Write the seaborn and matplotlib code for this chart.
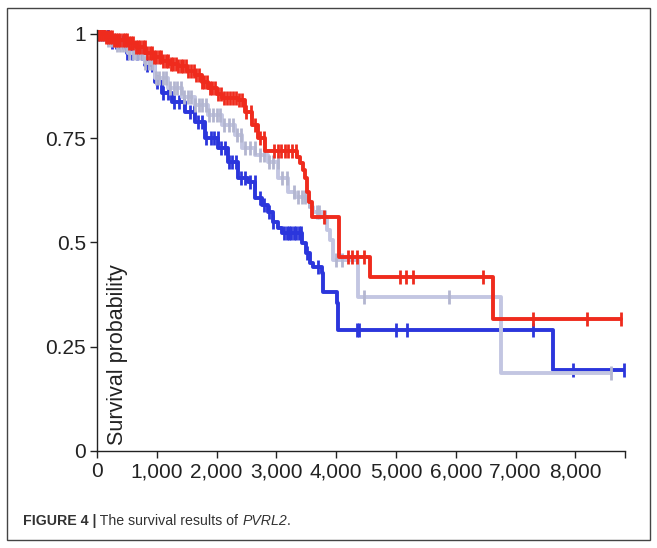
import numpy as np
import matplotlib
matplotlib.use('Agg')
import matplotlib.pyplot as plt
import seaborn as sns
from matplotlib.patches import Rectangle

# Kaplan-Meier step knots (days, survival after that day)
red_t = [0, 150, 251, 518, 650, 803, 950, 1087, 1220, 1355, 1500, 1639, 1750, 1856, 2000, 2090,
         2358, 2475, 2592, 2692, 2809, 3350, 3400, 3450, 3480, 3520, 3550, 3590, 4040, 4570,
         6620, 8760]
red_s = [1.0, 0.992, 0.986, 0.978, 0.968, 0.954, 0.944, 0.934, 0.928, 0.922, 0.912, 0.902,
         0.885, 0.87, 0.855, 0.847, 0.842, 0.814, 0.782, 0.75, 0.72, 0.705, 0.69, 0.675, 0.655,
         0.62, 0.597, 0.561, 0.465, 0.417, 0.317, 0.317]
red_cens = [20, 55, 85, 120, 150, 185, 215, 250, 290, 320, 355, 390, 430, 465, 500, 540, 575,
            610, 650, 690, 725, 765, 800, 840, 880, 915, 955, 995, 1035, 1075, 1110, 1150, 1195,
            1235, 1275, 1320, 1360, 1400, 1445, 1490, 1530, 1575, 1620, 1660, 1705, 1750, 1795,
            1840, 1885, 1930, 1975, 2020, 2070, 2120, 2170, 2220, 2270, 2320, 2370, 2420, 2500,
            2570, 2650, 2720, 2790, 2960, 3020, 3080, 3140, 3200, 3260, 3320, 3790, 4190, 4270,
            4350, 4460, 5060, 5160, 5290, 6450, 7290, 8190, 8760]

gray_t = [0, 150, 301, 518, 803, 970, 1187, 1421, 1639, 1856, 2090, 2308, 2425, 2642, 2860,
          3027, 3194, 3311, 3500, 3568, 3618, 3786, 3853, 3903, 3953, 4372, 6750, 8593]
gray_s = [1.0, 0.985, 0.974, 0.954, 0.93, 0.894, 0.87, 0.85, 0.83, 0.806, 0.782, 0.758, 0.727,
          0.71, 0.694, 0.654, 0.622, 0.61, 0.6, 0.585, 0.573, 0.561, 0.53, 0.506, 0.458, 0.369,
          0.187, 0.187]
gray_cens = [40, 90, 140, 190, 240, 290, 340, 390, 440, 490, 540, 600, 650, 700, 760, 810, 870,
             920, 980, 1040, 1100, 1160, 1220, 1280, 1340, 1400, 1460, 1520, 1580, 1640, 1700,
             1760, 1820, 1880, 1940, 2000, 2060, 2130, 2200, 2270, 2340, 2410, 2480, 2560, 2640,
             2720, 2800, 2870, 2940, 3020, 3100, 3180, 3300, 3360, 3420, 3480, 3540, 3680, 3720,
             3820, 4000, 4100, 4460, 5880, 8593]

blue_t = [0, 218, 500, 803, 970, 1087, 1254, 1471, 1639, 1806, 2023, 2191, 2358, 2525, 2642,
          2760, 2860, 2950, 3027, 3100, 3434, 3500, 3568, 3618, 3769, 3786, 4020, 4037, 7621,
          8811]
blue_s = [1.0, 0.98, 0.955, 0.926, 0.886, 0.858, 0.838, 0.814, 0.79, 0.75, 0.727, 0.694, 0.655,
          0.646, 0.607, 0.59, 0.574, 0.55, 0.535, 0.523, 0.499, 0.475, 0.451, 0.441, 0.427,
          0.381, 0.355, 0.29, 0.194, 0.194]
blue_cens = [30, 80, 130, 190, 250, 310, 370, 440, 510, 590, 670, 750, 830, 920, 1010, 1100,
             1190, 1280, 1370, 1460, 1550, 1620, 1690, 1760, 1830, 1900, 1960, 2020, 2080, 2140,
             2200, 2260, 2330, 2400, 2480, 2560, 2640, 2720, 2800, 2870, 2950, 3130, 3170, 3210,
             3250, 3290, 3330, 3370, 3410, 3520, 3700, 4355, 4389, 5008, 5176, 7286, 7960, 8811]

x_ticks = [0, 1000, 2000, 3000, 4000, 5000, 6000, 7000, 8000]
x_labels = ['0', '1,000', '2,000', '3,000', '4,000', '5,000', '6,000', '7,000', '8,000']
y_ticks = [0, 0.25, 0.5, 0.75, 1]
y_labels = ['0', '0.25', '0.5', '0.75', '1']

sns.set_style('ticks')
plt.rcParams['font.family'] = ['Liberation Sans', 'DejaVu Sans']

W, H = 657, 548
fig = plt.figure(figsize=(W / 100, H / 100), dpi=100)
ax = fig.add_axes([97 / W, (H - 451) / H, (625 - 97) / W, 421.2 / H])

curves = [
    (blue_t, blue_s, blue_cens, '#2b36dc', '#2b36dc', 2.8),
    (gray_t, gray_s, gray_cens, '#c3c6e2', '#b3b6d0', 2.8),
    (red_t, red_s, red_cens, '#ef2b1d', '#ef2b1d', 2.8),
]
for t, s, cens, col, mcol, lw in curves:
    sns.lineplot(x=t, y=s, drawstyle='steps-post', color=col, linewidth=lw,
                 estimator=None, ax=ax, legend=False)
    t_arr = np.array(t)
    s_arr = np.array(s)
    idx = np.searchsorted(t_arr, np.array(cens), side='right') - 1
    ax.plot(cens, s_arr[idx], linestyle='none', marker='|', markersize=10,
            markeredgewidth=2.0, color=mcol)

ax.set_xlim(0, 8830)
ax.set_ylim(0, 1.01)
ax.set_xticks(x_ticks)
ax.set_xticklabels(x_labels)
ax.set_yticks(y_ticks)
ax.set_yticklabels(y_labels)
ax.set_xticks([8830], minor=True)
ax.tick_params(axis='both', which='major', direction='out', length=5, width=1,
               labelsize=15, colors='#222222', pad=3)
ax.tick_params(axis='x', which='minor', direction='out', length=5, width=1, color='#222222')
sns.despine(ax=ax)
for side in ['left', 'bottom']:
    ax.spines[side].set_color('#222222')
    ax.spines[side].set_linewidth(1)
ax.set_xlabel('')
ax.set_ylabel('')

ax.text(0.038, 0.015, 'Survival probability', transform=ax.transAxes, rotation=90,
        ha='center', va='bottom', fontsize=15.5, color='#222222')

# outer frame
fig.add_artist(Rectangle((7 / W, 8 / H), 643 / W, 532 / H, transform=fig.transFigure,
                         fill=False, edgecolor='#444444', linewidth=1))

# caption
fig.canvas.draw()
renderer = fig.canvas.get_renderer()
parts = [('FIGURE 4 |', 'bold', 'normal'), (' The survival results of ', 'normal', 'normal'),
         ('PVRL2', 'normal', 'italic'), ('.', 'normal', 'normal')]
x = 23
for txt, weight, style in parts:
    tt = fig.text(x / W, (H - 525) / H, txt, fontsize=10.2, fontweight=weight, fontstyle=style,
                  color='#333333', ha='left', va='baseline')
    bb = tt.get_window_extent(renderer)
    x += bb.width

fig.savefig('out.png', dpi=100)
